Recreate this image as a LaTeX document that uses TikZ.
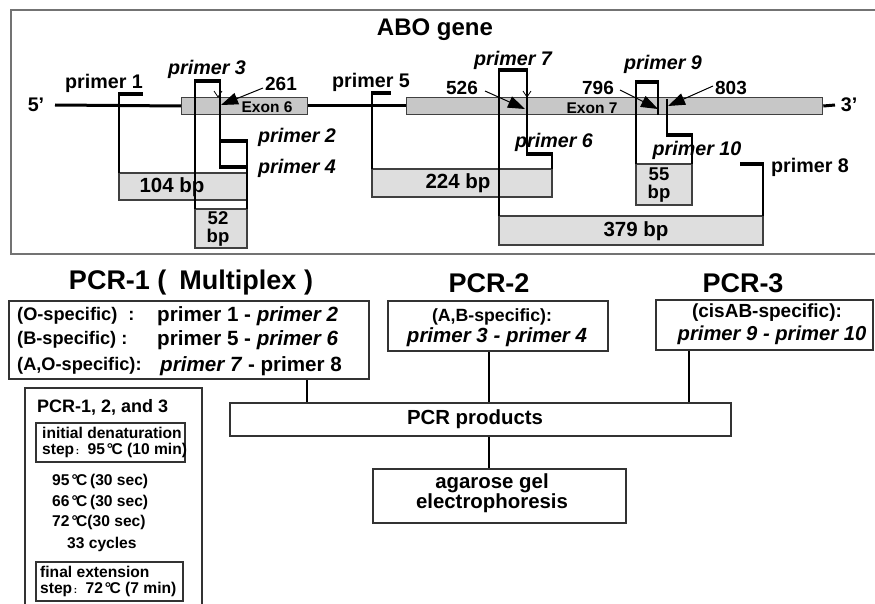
\documentclass[tikz,border=0pt]{standalone}
\usepackage{fontspec}
\setmainfont{Liberation Sans}
\usetikzlibrary{arrows.meta}

\newcommand{\fsz}[2]{\fontsize{#1}{#2}\selectfont}
\newcommand{\degc}{\kern-0.04em°\kern-0.1em C}

\tikzset{
  frame/.style={draw=black!55,line width=2pt},
  dna/.style={black,line width=3pt},
  exonbox/.style={draw=black!75,fill=black!22,line width=1.3pt,inner sep=0pt},
  prodbox/.style={draw=black!75,fill=black!13,line width=1.5pt},
  primerbar/.style={black,line width=4.5pt},
  primerline/.style={black,line width=2pt},
  pointer/.style={black,line width=1pt,-{Triangle[length=17pt,width=12pt]}},
  tickmark/.style={black,line width=0.8pt},
  lbl/.style={inner sep=0pt,font=\bfseries\fsz{19.7}{22}},
  ilbl/.style={inner sep=0pt,font=\bfseries\itshape\fsz{19.7}{22}},
  numlbl/.style={inner sep=0pt,font=\bfseries\fsz{19}{22}},
  exonlbl/.style={inner sep=0pt,font=\bfseries\fsz{15.5}{18}},
  bplbl/.style={inner sep=0pt,align=center,font=\bfseries\fsz{20.5}{22}},
  stackbp/.style={inner sep=0pt,align=center,font=\bfseries\fsz{18.5}{18}},
  heading/.style={inner sep=0pt,font=\bfseries\fsz{27}{30}},
  flowbox/.style={draw=black!80,line width=1.5pt,inner sep=0pt},
  conn/.style={black,line width=2pt},
  boxtxt/.style={inner sep=0pt,font=\bfseries\fsz{18.2}{21}},
  protxt/.style={inner sep=0pt,anchor=west,font=\bfseries\fsz{15.6}{18}}
}

\begin{document}
\begin{tikzpicture}[x=1pt,y=-1pt]
\useasboundingbox (0,0) rectangle (875,604);

% gene map
\draw[frame] (875,10) -- (11,10) -- (11,254) -- (875,254);
\node[inner sep=0pt,font=\bfseries\fsz{24}{26}] (title) at (435,30) {ABO gene};

\node[lbl] (fiveend) at (36,105) {5'};
\node[lbl] (threeend) at (849,105) {3'};
\node[exonbox,minimum width=126pt,minimum height=17pt,anchor=west] (exonsix) at (181,106) {};
\node[exonbox,minimum width=416pt,minimum height=17pt,anchor=west] (exonseven) at (406,106) {};
\draw[dna] (55,105) -- (exonsix.west);
\draw[dna] (exonsix.east) -- (exonseven.west);
\draw[dna] (exonseven.east) -- (835,105);
\node[exonlbl] (exsixlbl) at (267,107) {Exon 6};
\node[exonlbl] (exsevenlbl) at (592,108) {Exon 7};

% products
\draw[prodbox] (119,173) rectangle (247,200);
\draw[prodbox] (195,209) rectangle (247,248);
\draw[prodbox] (372,169) rectangle (552,197);
\draw[prodbox] (499,216) rectangle (763,245);
\draw[prodbox] (636,164) rectangle (692,205);
\node[bplbl] (bpa) at (172,187) {104 bp};
\node[stackbp] (bpb) at (218,229) {52\\bp};
\node[bplbl] (bpc) at (458,183) {224 bp};
\node[bplbl] (bpd) at (636,231) {379 bp};
\node[stackbp] (bpe) at (659,185) {55\\bp};

% primers
\draw[primerline] (119,94) -- (119,173);
\draw[primerline] (195,81) -- (195,209);
\draw[primerline] (220,81) -- (220,167);
\draw[primerline] (247,141) -- (247,209);
\draw[primerline] (372,93) -- (372,169);
\draw[primerline] (499,70) -- (499,216);
\draw[primerline] (527,70) -- (527,154);
\draw[primerline] (552,154) -- (552,169);
\draw[primerline] (636,82) -- (636,164);
\draw[primerline] (658,82) -- (658,115);
\draw[primerline] (667,99) -- (667,135);
\draw[primerline] (692,135) -- (692,164);
\draw[primerline] (763,164) -- (763,216);

\draw[primerbar] (118,94) -- (143,94);
\draw[primerbar] (194,81) -- (221,81);
\draw[primerbar] (219,141) -- (248,141);
\draw[primerbar] (219,167) -- (248,167);
\draw[primerbar] (371,93) -- (391,93);
\draw[primerbar] (526,154) -- (553,154);
\draw[primerbar] (498,70) -- (528,70);
\draw[primerbar] (740,164) -- (764,164);
\draw[primerbar] (635,82) -- (659,82);
\draw[primerbar] (666,135) -- (693,135);

\node[lbl] (pone) at (104,83) {primer 1};
\node[ilbl] (pthree) at (207,69) {primer 3};
\node[ilbl,anchor=west] (ptwo) at (258,137) {primer 2};
\node[ilbl,anchor=west] (pfour) at (258,168) {primer 4};
\node[lbl] (pfive) at (371,82) {primer 5};
\node[ilbl] (pseven) at (513,60) {primer 7};
\node[ilbl] (psix) at (554,142) {primer 6};
\node[ilbl] (pnine) at (663,64) {primer 9};
\node[ilbl] (pten) at (697,150) {primer 10};
\node[lbl] (peight) at (810,167) {primer 8};

% mutation sites
\node[numlbl] (sitea) at (281,84) {261};
\node[numlbl] (siteb) at (462,88) {526};
\node[numlbl] (sitec) at (598,88) {796};
\node[numlbl] (sited) at (731,88) {803};
\coordinate (tipa) at (221,105);
\coordinate (tipb) at (525,109);
\coordinate (tipc) at (658,109);
\coordinate (tipd) at (668,106);
\draw[pointer] (263,88) -- (tipa);
\draw[pointer] (485,91) -- (tipb);
\draw[pointer] (620,90) -- (tipc);
\draw[pointer] (713,86) -- (tipd);
\draw[tickmark] (214,91) -- (218,97) -- (222,91);
\draw[tickmark] (523,91) -- (527,97) -- (531,91);

% PCR scheme
\node[heading] (hone) at (191,283) {PCR-1 (\hspace{13pt}Multiplex )};
\node[heading] (htwo) at (489,283) {PCR-2};
\node[heading] (hthree) at (743,283) {PCR-3};

\node[flowbox,minimum width=360pt,minimum height=78pt] (pcrone) at (189,340) {};
\node[flowbox,minimum width=220pt,minimum height=50pt] (pcrtwo) at (498,326) {};
\node[flowbox,minimum width=217pt,minimum height=50pt] (pcrthree) at (764.5,325) {};
\node[flowbox,minimum width=501pt,minimum height=33pt] (products) at (480.5,419.5) {};
\node[flowbox,minimum width=253pt,minimum height=54pt] (gel) at (499.5,496) {};

\node[boxtxt,anchor=west] (rowa) at (17,316) {(O-specific)\hspace{11pt}:};
\node[boxtxt,anchor=west] (rowb) at (17,340) {(B-specific) :};
\node[boxtxt,anchor=west] (rowc) at (17,366) {(A,O-specific):};
\node[lbl,anchor=west,font=\bfseries\fsz{20.6}{22}] (pairA) at (157,316) {primer 1 - \textit{primer 2}};
\node[lbl,anchor=west,font=\bfseries\fsz{20.6}{22}] (pairB) at (157,340) {primer 5 - \textit{primer 6}};
\node[lbl,anchor=west,font=\bfseries\fsz{20.6}{22}] (pairC) at (160,366) {\textit{primer 7} - primer 8};

\node[boxtxt,font=\bfseries\fsz{17.7}{20}] (spectwo) at (492,317) {(A,B-specific):};
\node[ilbl,font=\bfseries\itshape\fsz{20.5}{22}] (pairtwo) at (497,337) {primer 3 - primer 4};
\node[boxtxt,font=\bfseries\fsz{19}{21}] (specthree) at (767,313) {(cisAB-specific):};
\node[ilbl,font=\bfseries\itshape\fsz{20.2}{22}] (pairthree) at (772,335) {primer 9 - primer 10};

\node[inner sep=0pt,font=\bfseries\fsz{20.4}{22}] (prodlbl) at (475,419) {PCR products};
\node[inner sep=0pt,align=center,font=\bfseries\fsz{20.4}{19}] (gellbl) at (492,493) {agarose gel\\electrophoresis};

\draw[conn] (pcrone.south -| 307,0) -- (products.north -| 307,0);
\draw[conn] (pcrtwo.south -| 489,0) -- (products.north -| 489,0);
\draw[conn] (pcrthree.south -| 689,0) -- (products.north -| 689,0);
\draw[conn] (products.south -| 489,0) -- (gel.north -| 489,0);

% cycling conditions
\draw[flowbox] (25,604) -- (25,388) -- (202,388) -- (202,604);
\node[protxt,font=\bfseries\fsz{18}{20}] (prohead) at (37,407) {PCR-1, 2, and 3};
\draw[flowbox] (36,423) rectangle (185,462);
\node[protxt] (inita) at (42,433) {initial denaturation};
\node[protxt] (initb) at (42,450) {step{\fsz{10}{12}\,:}\, 95\,\degc\ (10 min)};
\node[protxt] (cyca) at (52,481) {95\,\degc\,(30 sec)};
\node[protxt] (cycb) at (52,502) {66\,\degc\,(30 sec)};
\node[protxt] (cycc) at (52,522) {72\,\degc(30 sec)};
\node[protxt] (cycd) at (67,544) {33 cycles};
\draw[flowbox] (36,562) rectangle (183,601);
\node[protxt] (fina) at (40,572) {final extension};
\node[protxt] (finb) at (40,589) {step{\fsz{10}{12}\,:}\, 72\,\degc\ (7 min)};

\end{tikzpicture}
\end{document}
